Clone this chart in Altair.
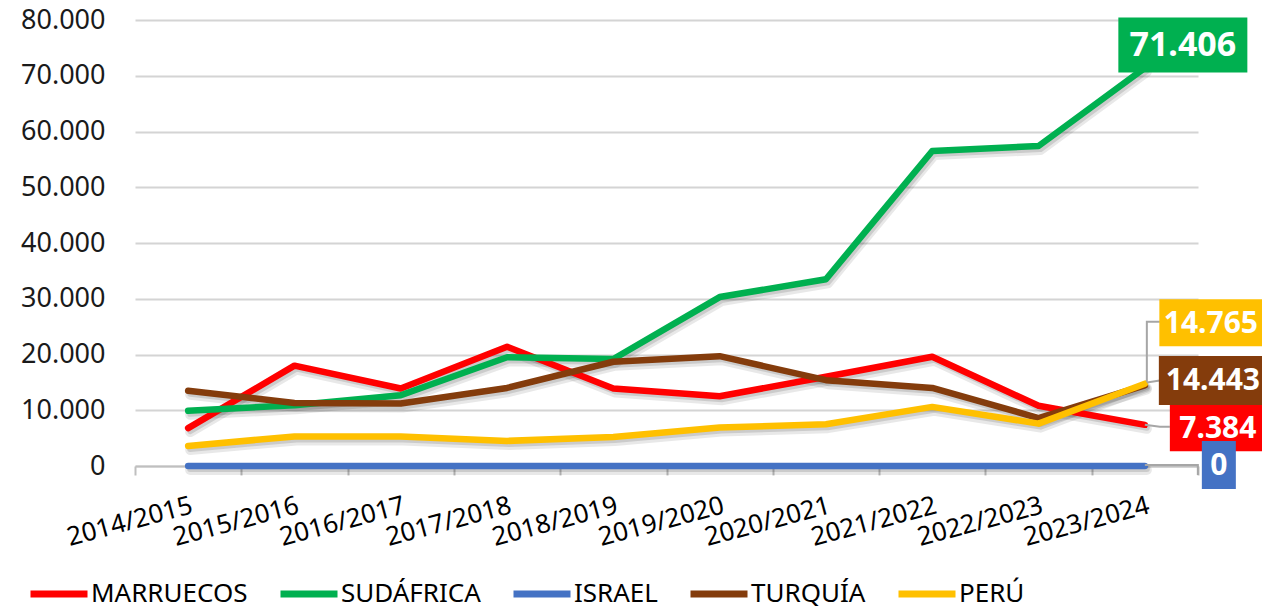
import altair as alt
import pandas as pd

# ---------------- data ----------------
categories = ["2014/2015", "2015/2016", "2016/2017", "2017/2018", "2018/2019",
              "2019/2020", "2020/2021", "2021/2022", "2022/2023", "2023/2024"]
series_names = ["MARRUECOS", "SUDÁFRICA", "ISRAEL", "TURQUÍA", "PERÚ"]
marruecos = [6800, 18000, 13900, 21400, 13900, 12500, 16000, 19600, 10800, 7384]
sudafrica = [9900, 10900, 12700, 19500, 19200, 30300, 33500, 56500, 57400, 71406]
israel = [0, 0, 0, 0, 0, 0, 0, 0, 0, 0]
turquia = [13500, 11300, 11200, 14000, 18700, 19700, 15400, 14000, 8600, 14443]
peru = [3600, 5300, 5300, 4500, 5200, 6900, 7500, 10600, 7600, 14765]
y_ticks = [0, 10000, 20000, 30000, 40000, 50000, 60000, 70000, 80000]

# ---------------- styles ----------------
colors = ["#FF0000", "#00B050", "#4472C4", "#843C0C", "#FFC000"]
FONT = "Noto Sans"
W, H = 1063, 446

# end-label layout per series: (dx, dy, box_w, box_h, font_size)
label_style = {
    "MARRUECOS": (73, 3, 96, 47, 30),
    "SUDÁFRICA": (38, -23, 129, 55, 34),
    "ISRAEL": (74, -1, 34, 48, 30),
    "TURQUÍA": (68, -5, 108, 49, 30),
    "PERÚ": (66, -61, 103, 47, 30),
}
# leader polylines (pixel offsets from the last point)
leader_style = {
    "MARRUECOS": [(0, 0), (15, 2), (25, 2)],
    "ISRAEL": [(0, -1), (53, -1), (53, 9)],
    "TURQUÍA": [(2, -3), (15, -5)],
    "PERÚ": [(2, -2), (2, -62), (15, -62)],
}

all_series = [marruecos, sudafrica, israel, turquia, peru]
rows = []
for name, vals in zip(series_names, all_series):
    for c, v in zip(categories, vals):
        rows.append({"periodo": c, "pais": name, "toneladas": v})
df = pd.DataFrame(rows)

last = pd.DataFrame({
    "periodo": [categories[-1]] * len(series_names),
    "pais": series_names,
    "toneladas": [s[-1] for s in all_series],
})
last["etiqueta"] = last["toneladas"].map(lambda v: f"{v:,}".replace(",", "."))

x_enc = alt.X(
    "periodo:N", sort=categories, bandPosition=0.5,
    scale=alt.Scale(type="band", paddingInner=0, paddingOuter=0),
    axis=alt.Axis(title=None, tickBand="extent", labelAngle=-15, labelAlign="right",
                  labelBaseline="top", labelFont=FONT, labelFontSize=26,
                  labelColor="#000000", labelPadding=17, domainColor="#bfbfbf",
                  domainWidth=2, tickColor="#bfbfbf", tickWidth=2, tickSize=9,
                  grid=False, labelOverlap=False),
)
y_enc = alt.Y(
    "toneladas:Q", scale=alt.Scale(domain=[0, 80000], nice=False),
    axis=alt.Axis(title=None, values=y_ticks,
                  labelExpr="replace(format(datum.value, ',d'), ',', '.')",
                  labelFont=FONT, labelFontSize=27, labelColor="#1a1a1a",
                  labelPadding=30, domain=False, ticks=False,
                  gridColor="#d4d4d4", gridWidth=2),
)
color_enc = alt.Color(
    "pais:N", scale=alt.Scale(domain=series_names, range=colors),
    legend=alt.Legend(title=None, orient="none", direction="horizontal",
                      legendX=-108, legendY=542, symbolType="stroke",
                      symbolSize=3249, symbolStrokeWidth=7, labelFont=FONT,
                      labelFontSize=26, labelColor="#000000", columnPadding=18,
                      labelOffset=0, padding=0, columns=5),
)

shadow = alt.Chart(df).mark_line(
    color="#000000", opacity=0.09, strokeWidth=10, xOffset=2, yOffset=4,
    strokeCap="round", strokeJoin="round"
).encode(x=x_enc, y=y_enc, detail="pais:N")
shadow2 = alt.Chart(df).mark_line(
    color="#000000", opacity=0.12, strokeWidth=6, xOffset=2, yOffset=3,
    strokeCap="round", strokeJoin="round"
).encode(x=x_enc, y=y_enc, detail="pais:N")

layers = [shadow, shadow2]
for name in series_names:
    layers.append(
        alt.Chart(df).transform_filter(alt.datum.pais == name).mark_line(
            strokeWidth=6.5, strokeCap="round", strokeJoin="round"
        ).encode(x=x_enc, y=y_enc, color=color_enc)
    )

for name, col in zip(series_names, colors):
    sub = last[last["pais"] == name]
    if name in leader_style:
        pts = leader_style[name]
        unit = 50.0
        path = "M" + "L".join(f"{px/unit:.3f},{py/unit:.3f}" for px, py in pts)
        layers.append(
            alt.Chart(sub).mark_point(
                shape=path, size=10000, filled=False, stroke="#a6a6a6",
                strokeWidth=2, opacity=1
            ).encode(x=x_enc, y=y_enc)
        )
    dx, dy, bw, bh, fs = label_style[name]
    r = bh / bw
    box_path = f"M-1,{-r:.4f}L1,{-r:.4f}L1,{r:.4f}L-1,{r:.4f}Z"
    layers.append(
        alt.Chart(sub).mark_point(
            shape=box_path, size=bw * bw, filled=True, fill=col, opacity=1,
            strokeWidth=0, xOffset=dx, yOffset=dy
        ).encode(x=x_enc, y=y_enc)
    )
    layers.append(
        alt.Chart(sub).mark_text(
            font=FONT, fontWeight="bold", fontSize=fs, color="#ffffff",
            dx=dx, dy=dy + 1, align="center", baseline="middle"
        ).encode(x=x_enc, y=y_enc, text="etiqueta:N")
    )

chart = alt.layer(*layers).properties(
    width=W, height=H,
    autosize=alt.AutoSizeParams(type="none"),
    padding={"left": 127, "top": 12, "right": 64, "bottom": 141},
).configure_view(stroke=None).configure_axis(labelFontWeight="normal")

chart.save("out.html", embed_options={"renderer": "svg", "actions": False})
